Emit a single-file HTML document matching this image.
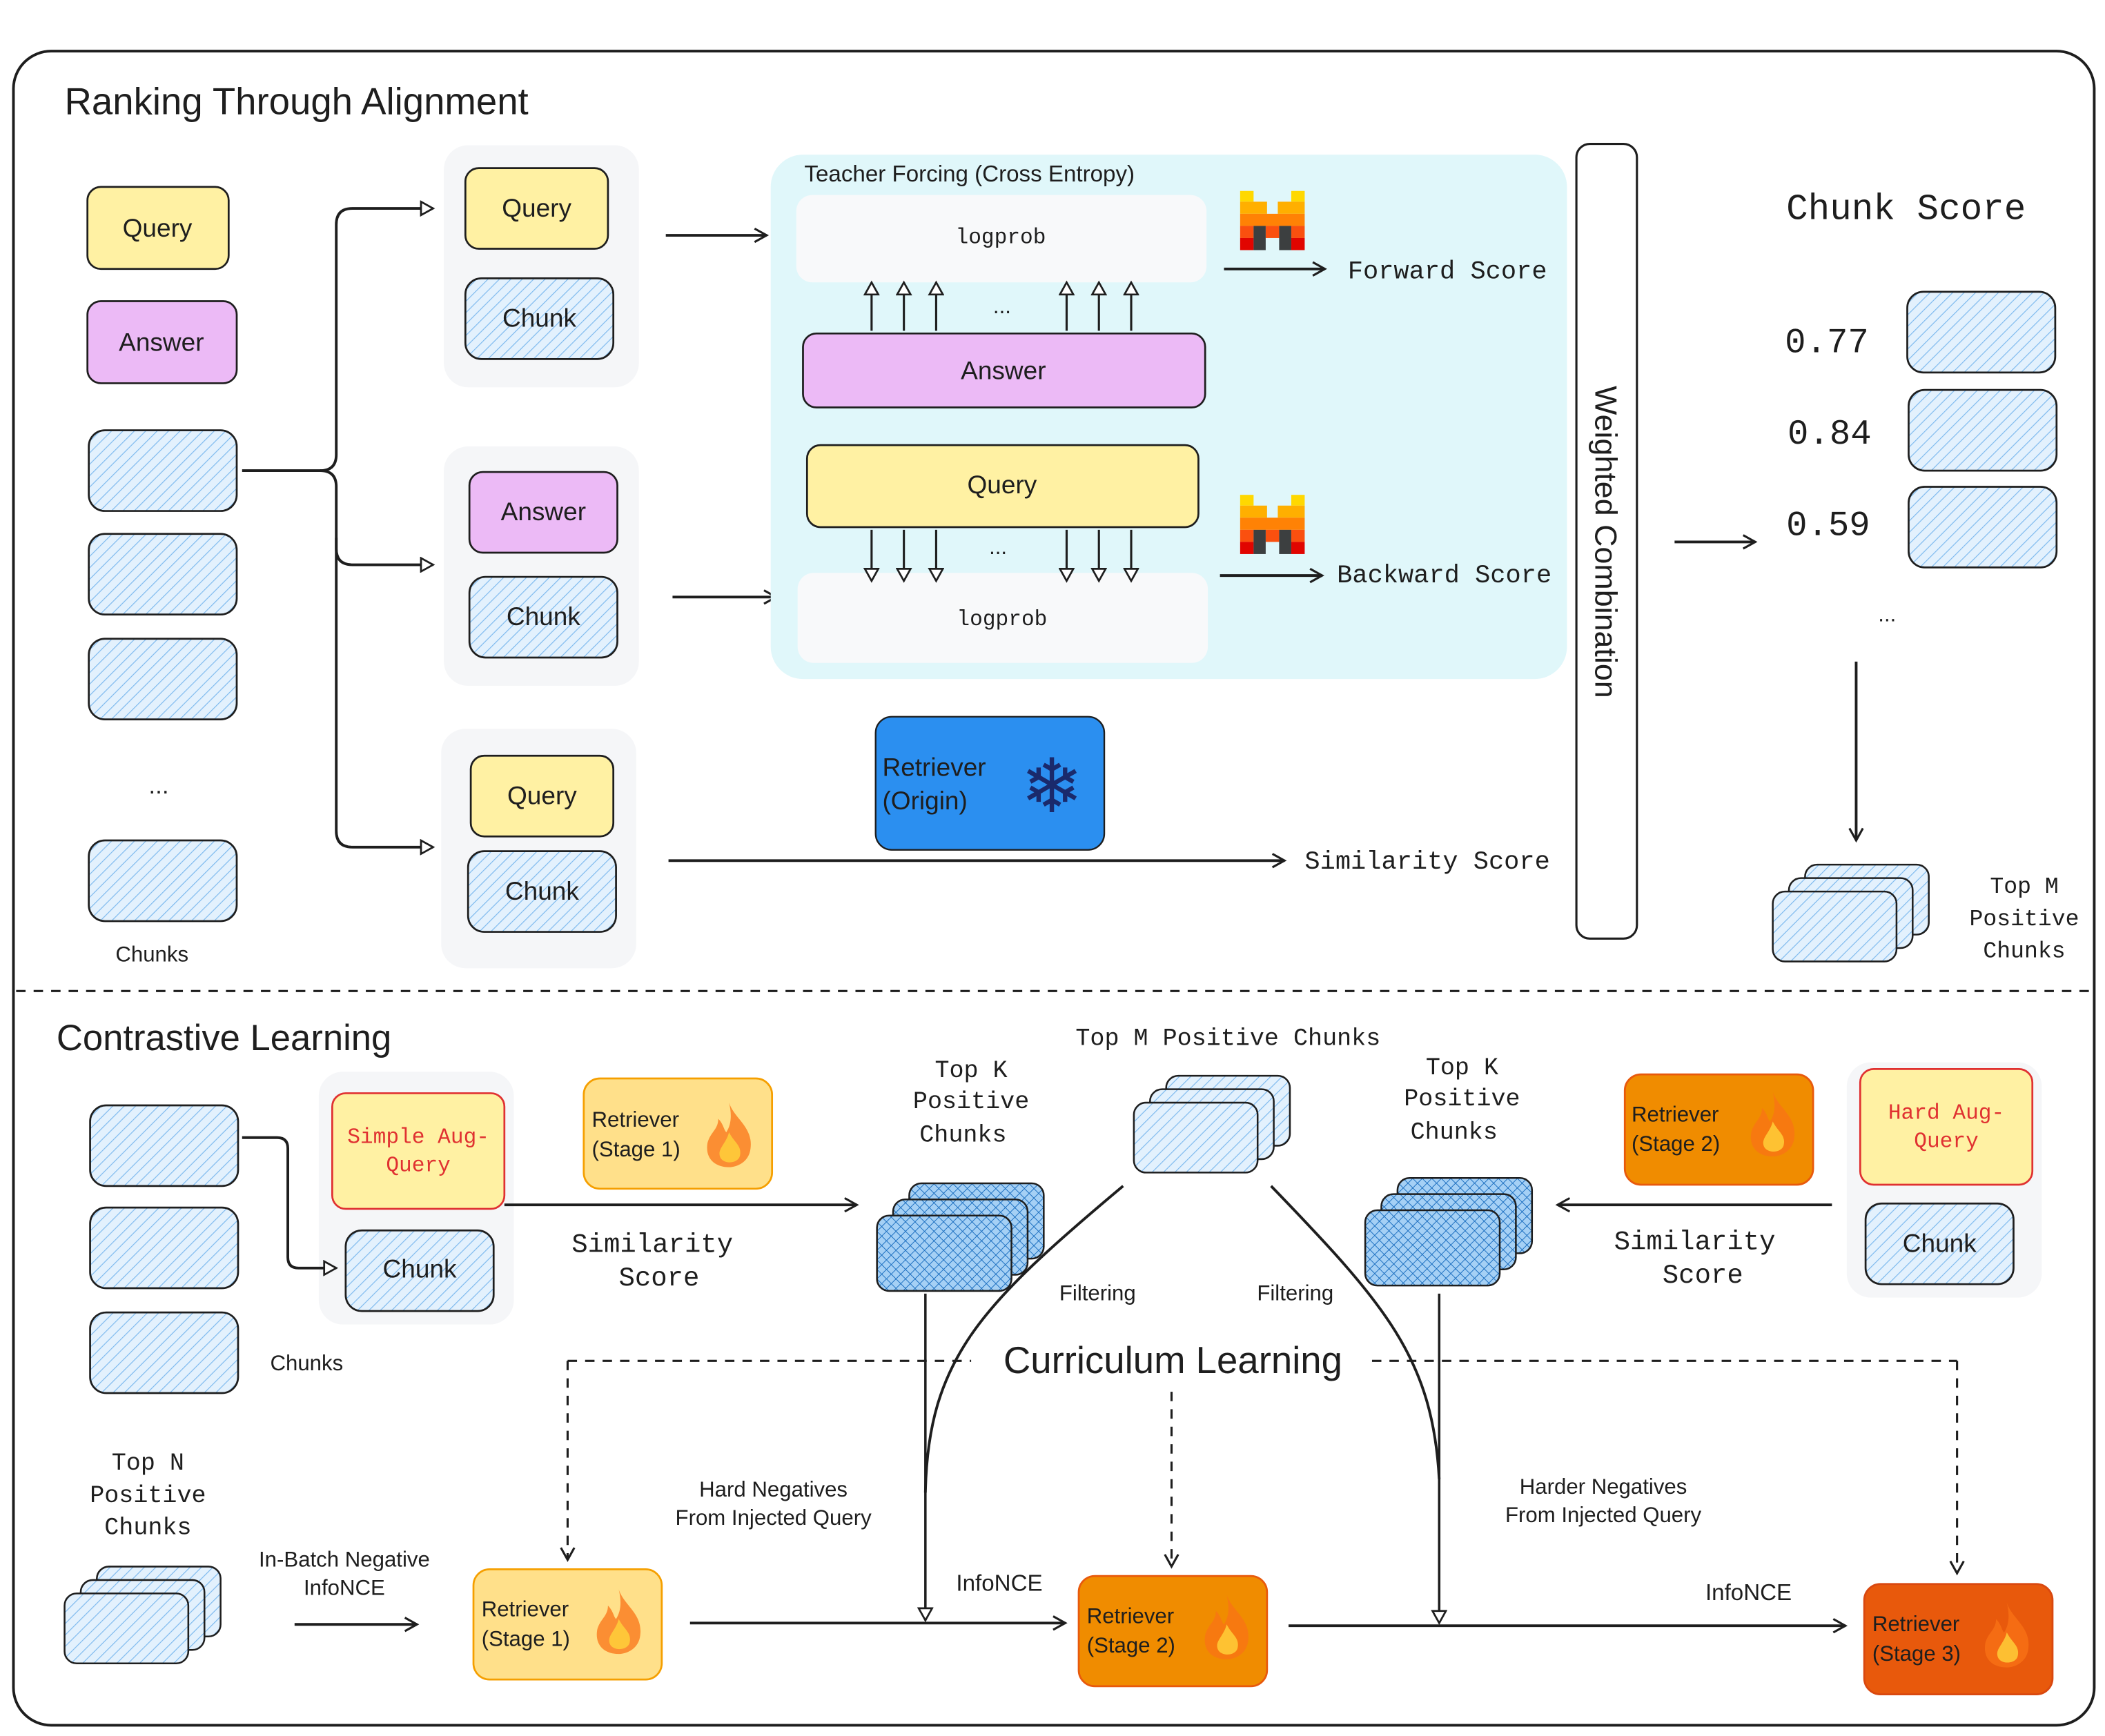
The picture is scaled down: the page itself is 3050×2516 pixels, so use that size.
<!DOCTYPE html>
<html><head><meta charset="utf-8"><style>
html,body{margin:0;padding:0;background:#fff}
svg{display:block}
text{font-family:"Liberation Sans",sans-serif;fill:#1e1e1e}
.m{font-family:"Liberation Mono",monospace}
</style></head><body>
<svg width="3050" height="2516" viewBox="0 0 1565 1291" xmlns="http://www.w3.org/2000/svg">
<defs>
<pattern id="h" width="6" height="6" patternUnits="userSpaceOnUse" patternTransform="rotate(45)">
<rect width="6" height="6" fill="#e3f1fd"/><line x1="0" y1="0" x2="0" y2="6" stroke="#7cb9ee" stroke-width="1.2"/></pattern>
<pattern id="d" width="5" height="5" patternUnits="userSpaceOnUse" patternTransform="rotate(45)">
<rect width="5" height="5" fill="#a5d0f5"/><line x1="0" y1="0" x2="0" y2="5" stroke="#1c6fc0" stroke-width="1"/><line x1="0" y1="0" x2="5" y2="0" stroke="#1c6fc0" stroke-width="1"/></pattern>
<marker id="a" markerWidth="12" markerHeight="12" refX="10" refY="6" orient="auto" markerUnits="userSpaceOnUse"><path d="M1,1 L10,6 L1,11" fill="none" stroke="#1e1e1e" stroke-width="1.6"/></marker>
<marker id="t" markerWidth="12" markerHeight="12" refX="10" refY="6" orient="auto" markerUnits="userSpaceOnUse"><path d="M1,1 L10,6 L1,11 Z" fill="#fff" stroke="#1e1e1e" stroke-width="1.4"/></marker>
<g id="ch"><rect width="110" height="60" rx="12" fill="url(#h)" stroke="#1e1e1e" stroke-width="1.4"/></g>
<g id="st"><rect x="24" y="0" width="92" height="52" rx="9" fill="url(#h)" stroke="#1e1e1e" stroke-width="1.3"/><rect x="12" y="10" width="92" height="52" rx="9" fill="url(#h)" stroke="#1e1e1e" stroke-width="1.3"/><rect x="0" y="20" width="92" height="52" rx="9" fill="url(#h)" stroke="#1e1e1e" stroke-width="1.3"/></g>
<g id="sd"><rect x="24" y="0" width="100" height="56" rx="9" fill="url(#d)" stroke="#1e1e1e" stroke-width="1.3"/><rect x="12" y="12" width="100" height="56" rx="9" fill="url(#d)" stroke="#1e1e1e" stroke-width="1.3"/><rect x="0" y="24" width="100" height="56" rx="9" fill="url(#d)" stroke="#1e1e1e" stroke-width="1.3"/></g>
<g id="fire"><path d="M18,0 C22,12 36,18 34,34 C33,44 24,48 18,48 C8,48 0,42 2,30 C4,22 10,20 10,12 C14,16 14,20 16,22 C20,16 20,8 18,0 Z" fill="#f97316" opacity="0.75"/><path d="M18,22 C22,30 28,32 26,40 C24,46 12,46 11,39 C10,34 16,30 18,22 Z" fill="#ffd43b" opacity="0.8"/></g>
<g id="mis"><rect x="0" y="0" width="10" height="8" fill="#ffd800"/><rect x="38" y="0" width="10" height="8" fill="#ffd800"/><rect x="0" y="8" width="20" height="9" fill="#ffaf00"/><rect x="28" y="8" width="20" height="9" fill="#ffaf00"/><rect x="0" y="17" width="48" height="9" fill="#ff8205"/><rect x="0" y="26" width="10" height="9" fill="#fa500f"/><rect x="19" y="26" width="10" height="9" fill="#fa500f"/><rect x="38" y="26" width="10" height="9" fill="#fa500f"/><rect x="0" y="35" width="10" height="9" fill="#e10500"/><rect x="38" y="35" width="10" height="9" fill="#e10500"/><rect x="10" y="26" width="9" height="18" fill="#1e1e1e" opacity="0.85"/><rect x="29" y="26" width="9" height="18" fill="#1e1e1e" opacity="0.85"/></g>
</defs>

<rect x="10" y="38" width="1547" height="1245" rx="28" fill="#fff" stroke="#1e1e1e" stroke-width="2"/>
<line x1="12" y1="737" x2="1555" y2="737" stroke="#1e1e1e" stroke-width="1.6" stroke-dasharray="7,6"/>

<text x="48" y="85" font-size="28">Ranking Through Alignment</text>

<rect x="65" y="139" width="105" height="61" rx="10" fill="#fff1a3" stroke="#1e1e1e" stroke-width="1.4"/>
<text x="117" y="176" font-size="19" text-anchor="middle">Query</text>
<rect x="65" y="224" width="111" height="61" rx="10" fill="#ecbaf6" stroke="#1e1e1e" stroke-width="1.4"/>
<text x="120" y="261" font-size="19" text-anchor="middle">Answer</text>
<use href="#ch" x="66" y="320"/><use href="#ch" x="66" y="397"/><use href="#ch" x="66" y="475"/>
<text x="118" y="590" font-size="18" text-anchor="middle">...</text>
<use href="#ch" x="66" y="625"/>
<text x="113" y="715" font-size="16" text-anchor="middle">Chunks</text>

<path d="M180,350 L238,350 Q250,350 250,338 L250,167 Q250,155 262,155 L322,155" fill="none" stroke="#1e1e1e" stroke-width="2" marker-end="url(#t)"/>
<path d="M238,350 Q250,350 250,362 L250,408 Q250,420 262,420 L322,420" fill="none" stroke="#1e1e1e" stroke-width="2" marker-end="url(#t)"/>
<path d="M250,400 L250,618 Q250,630 262,630 L322,630" fill="none" stroke="#1e1e1e" stroke-width="2" marker-end="url(#t)"/>

<rect x="330" y="108" width="145" height="180" rx="18" fill="#f5f6f8"/>
<rect x="346" y="125" width="106" height="60" rx="10" fill="#fff1a3" stroke="#1e1e1e" stroke-width="1.4"/>
<text x="399" y="161" font-size="19" text-anchor="middle">Query</text>
<use href="#ch" x="346" y="207"/><text x="401" y="243" font-size="19" text-anchor="middle">Chunk</text>

<rect x="330" y="332" width="145" height="178" rx="18" fill="#f5f6f8"/>
<rect x="349" y="351" width="110" height="60" rx="10" fill="#ecbaf6" stroke="#1e1e1e" stroke-width="1.4"/>
<text x="404" y="387" font-size="19" text-anchor="middle">Answer</text>
<use href="#ch" x="349" y="429"/><text x="404" y="465" font-size="19" text-anchor="middle">Chunk</text>

<rect x="328" y="542" width="145" height="178" rx="18" fill="#f5f6f8"/>
<rect x="350" y="562" width="106" height="60" rx="10" fill="#fff1a3" stroke="#1e1e1e" stroke-width="1.4"/>
<text x="403" y="598" font-size="19" text-anchor="middle">Query</text>
<use href="#ch" x="348" y="633"/><text x="403" y="669" font-size="19" text-anchor="middle">Chunk</text>

<line x1="495" y1="175" x2="570" y2="175" stroke="#1e1e1e" stroke-width="2" marker-end="url(#a)"/>
<line x1="500" y1="444" x2="577" y2="444" stroke="#1e1e1e" stroke-width="2" marker-end="url(#a)"/>

<rect x="573" y="115" width="592" height="390" rx="24" fill="#e0f7fa"/>
<text x="598" y="135" font-size="17">Teacher Forcing (Cross Entropy)</text>
<rect x="592" y="145" width="305" height="65" rx="12" fill="#f8f9fa"/>
<text x="744" y="181" font-size="16" class="m" text-anchor="middle">logprob</text>
<rect x="597" y="248" width="299" height="55" rx="10" fill="#ecbaf6" stroke="#1e1e1e" stroke-width="1.4"/>
<text x="746" y="282" font-size="19" text-anchor="middle">Answer</text>
<rect x="600" y="331" width="291" height="61" rx="10" fill="#fff1a3" stroke="#1e1e1e" stroke-width="1.4"/>
<text x="745" y="367" font-size="19" text-anchor="middle">Query</text>
<rect x="593" y="426" width="305" height="67" rx="12" fill="#f8f9fa"/>
<text x="745" y="465" font-size="16" class="m" text-anchor="middle">logprob</text>
<g stroke="#1e1e1e" stroke-width="1.6">
<line x1="648" y1="246" x2="648" y2="210" marker-end="url(#t)"/><line x1="672" y1="246" x2="672" y2="210" marker-end="url(#t)"/><line x1="696" y1="246" x2="696" y2="210" marker-end="url(#t)"/>
<line x1="793" y1="246" x2="793" y2="210" marker-end="url(#t)"/><line x1="817" y1="246" x2="817" y2="210" marker-end="url(#t)"/><line x1="841" y1="246" x2="841" y2="210" marker-end="url(#t)"/>
<line x1="648" y1="394" x2="648" y2="432" marker-end="url(#t)"/><line x1="672" y1="394" x2="672" y2="432" marker-end="url(#t)"/><line x1="696" y1="394" x2="696" y2="432" marker-end="url(#t)"/>
<line x1="793" y1="394" x2="793" y2="432" marker-end="url(#t)"/><line x1="817" y1="394" x2="817" y2="432" marker-end="url(#t)"/><line x1="841" y1="394" x2="841" y2="432" marker-end="url(#t)"/>
</g>
<text x="745" y="233" font-size="16" text-anchor="middle">...</text>
<text x="742" y="412" font-size="16" text-anchor="middle">...</text>
<use href="#mis" x="922" y="142"/><use href="#mis" x="922" y="368"/>
<line x1="910" y1="200" x2="985" y2="200" stroke="#1e1e1e" stroke-width="2" marker-end="url(#a)"/>
<text x="1002" y="207" font-size="19" class="m">Forward Score</text>
<line x1="907" y1="428" x2="983" y2="428" stroke="#1e1e1e" stroke-width="2" marker-end="url(#a)"/>
<text x="994" y="433" font-size="19" class="m">Backward Score</text>

<rect x="651" y="533" width="170" height="99" rx="12" fill="#2b8ff0" stroke="#1e1e1e" stroke-width="1.2"/>
<text x="656" y="577" font-size="19">Retriever</text>
<text x="656" y="602" font-size="19">(Origin)</text>
<text x="782" y="604" font-size="56" text-anchor="middle" style="fill:#1a2a6c;font-family:'DejaVu Sans',sans-serif">❄</text>
<line x1="497" y1="640" x2="955" y2="640" stroke="#1e1e1e" stroke-width="2" marker-end="url(#a)"/>
<text x="970" y="646" font-size="19" class="m">Similarity Score</text>

<rect x="1172" y="107" width="45" height="591" rx="10" fill="#fff" stroke="#1e1e1e" stroke-width="1.6"/>
<text transform="translate(1186,403) rotate(90)" font-size="23" text-anchor="middle">Weighted Combination</text>
<line x1="1245" y1="403" x2="1305" y2="403" stroke="#1e1e1e" stroke-width="2" marker-end="url(#a)"/>

<text x="1328" y="163" font-size="27" class="m">Chunk Score</text>
<text x="1327" y="262" font-size="26" class="m">0.77</text>
<text x="1329" y="330" font-size="26" class="m">0.84</text>
<text x="1328" y="398" font-size="26" class="m">0.59</text>
<use href="#ch" x="1418" y="217"/><use href="#ch" x="1419" y="290"/><use href="#ch" x="1419" y="362"/>
<text x="1403" y="462" font-size="16" text-anchor="middle">...</text>
<line x1="1380" y1="492" x2="1380" y2="625" stroke="#1e1e1e" stroke-width="2" marker-end="url(#a)"/>
<use href="#st" x="1318" y="643"/>
<text x="1505" y="664" font-size="17" class="m" text-anchor="middle">Top M</text>
<text x="1505" y="688" font-size="17" class="m" text-anchor="middle">Positive</text>
<text x="1505" y="712" font-size="17" class="m" text-anchor="middle">Chunks</text>

<text x="42" y="781" font-size="27">Contrastive Learning</text>
<use href="#ch" x="67" y="822"/><use href="#ch" x="67" y="898"/><use href="#ch" x="67" y="976"/>
<text x="228" y="1019" font-size="16" text-anchor="middle">Chunks</text>
<rect x="237" y="797" width="145" height="188" rx="18" fill="#f5f6f8"/>
<rect x="247" y="813" width="128" height="86" rx="10" fill="#fff1a3" stroke="#e03131" stroke-width="1.4"/>
<text x="311" y="850" font-size="16" class="m" text-anchor="middle" style="fill:#e03131">Simple Aug-</text>
<text x="311" y="871" font-size="16" class="m" text-anchor="middle" style="fill:#e03131">Query</text>
<use href="#ch" x="257" y="915"/><text x="312" y="950" font-size="19" text-anchor="middle">Chunk</text>
<path d="M180,846 L206,846 Q214,846 214,854 L214,935 Q214,943 222,943 L250,943" fill="none" stroke="#1e1e1e" stroke-width="2" marker-end="url(#t)"/>

<rect x="434" y="802" width="140" height="82" rx="12" fill="#ffe08a" stroke="#f59f00" stroke-width="1.4"/>
<text x="440" y="838" font-size="16">Retriever</text><text x="440" y="860" font-size="16">(Stage 1)</text>
<use href="#fire" x="524" y="820"/>
<line x1="375" y1="896" x2="637" y2="896" stroke="#1e1e1e" stroke-width="2" marker-end="url(#a)"/>
<text x="485" y="931" font-size="20" class="m" text-anchor="middle">Similarity</text>
<text x="490" y="956" font-size="20" class="m" text-anchor="middle">Score</text>

<text x="722" y="801" font-size="18" class="m" text-anchor="middle">Top K</text>
<text x="722" y="824" font-size="18" class="m" text-anchor="middle">Positive</text>
<text x="716" y="849" font-size="18" class="m" text-anchor="middle">Chunks</text>
<use href="#sd" x="652" y="880"/>
<text x="913" y="777" font-size="18" class="m" text-anchor="middle">Top M Positive Chunks</text>
<use href="#st" x="843" y="800"/>
<text x="1087" y="799" font-size="18" class="m" text-anchor="middle">Top K</text>
<text x="1087" y="822" font-size="18" class="m" text-anchor="middle">Positive</text>
<text x="1081" y="847" font-size="18" class="m" text-anchor="middle">Chunks</text>
<use href="#sd" x="1015" y="876"/>
<path d="M835,882 C730,970 690,1010 688,1110" fill="none" stroke="#1e1e1e" stroke-width="2"/>
<path d="M945,882 C1030,970 1065,1010 1070,1100" fill="none" stroke="#1e1e1e" stroke-width="2"/>
<text x="816" y="967" font-size="16" text-anchor="middle">Filtering</text>
<text x="963" y="967" font-size="16" text-anchor="middle">Filtering</text>

<rect x="1373" y="790" width="145" height="175" rx="18" fill="#f5f6f8"/>
<rect x="1383" y="795" width="128" height="86" rx="10" fill="#fff1a3" stroke="#e03131" stroke-width="1.4"/>
<text x="1447" y="832" font-size="16" class="m" text-anchor="middle" style="fill:#e03131">Hard Aug-</text>
<text x="1447" y="853" font-size="16" class="m" text-anchor="middle" style="fill:#e03131">Query</text>
<use href="#ch" x="1387" y="895"/><text x="1442" y="931" font-size="19" text-anchor="middle">Chunk</text>
<rect x="1208" y="799" width="140" height="82" rx="12" fill="#f08c00" stroke="#e8590c" stroke-width="1.4"/>
<text x="1213" y="834" font-size="16">Retriever</text><text x="1213" y="856" font-size="16">(Stage 2)</text>
<use href="#fire" x="1300" y="812"/>
<line x1="1362" y1="896" x2="1158" y2="896" stroke="#1e1e1e" stroke-width="2" marker-end="url(#a)"/>
<text x="1260" y="929" font-size="20" class="m" text-anchor="middle">Similarity</text>
<text x="1266" y="954" font-size="20" class="m" text-anchor="middle">Score</text>

<line x1="422" y1="1012" x2="1455" y2="1012" stroke="#1e1e1e" stroke-width="1.6" stroke-dasharray="7,6"/>
<line x1="422" y1="1012" x2="422" y2="1160" stroke="#1e1e1e" stroke-width="1.6" stroke-dasharray="7,6" marker-end="url(#a)"/>
<line x1="1455" y1="1012" x2="1455" y2="1170" stroke="#1e1e1e" stroke-width="1.6" stroke-dasharray="7,6" marker-end="url(#a)"/>
<line x1="871" y1="1035" x2="871" y2="1165" stroke="#1e1e1e" stroke-width="1.6" stroke-dasharray="7,6" marker-end="url(#a)"/>
<rect x="722" y="994" width="298" height="34" fill="#fff"/>
<text x="872" y="1021" font-size="28" text-anchor="middle">Curriculum Learning</text>
<line x1="688" y1="962" x2="688" y2="1205" stroke="#1e1e1e" stroke-width="1.8" marker-end="url(#t)"/>
<line x1="1070" y1="962" x2="1070" y2="1207" stroke="#1e1e1e" stroke-width="1.8" marker-end="url(#t)"/>

<text x="110" y="1093" font-size="18" class="m" text-anchor="middle">Top N</text>
<text x="110" y="1117" font-size="18" class="m" text-anchor="middle">Positive</text>
<text x="110" y="1141" font-size="18" class="m" text-anchor="middle">Chunks</text>
<use href="#st" x="48" y="1165"/>
<text x="256" y="1165" font-size="16" text-anchor="middle">In-Batch Negative</text>
<text x="256" y="1186" font-size="16" text-anchor="middle">InfoNCE</text>
<line x1="219" y1="1208" x2="310" y2="1208" stroke="#1e1e1e" stroke-width="2" marker-end="url(#a)"/>
<rect x="352" y="1167" width="140" height="82" rx="12" fill="#ffe08a" stroke="#f59f00" stroke-width="1.4"/>
<text x="358" y="1202" font-size="16">Retriever</text><text x="358" y="1224" font-size="16">(Stage 1)</text>
<use href="#fire" x="442" y="1182"/>
<line x1="513" y1="1207" x2="792" y2="1207" stroke="#1e1e1e" stroke-width="2" marker-end="url(#a)"/>
<text x="743" y="1183" font-size="17" text-anchor="middle">InfoNCE</text>
<text x="575" y="1113" font-size="16" text-anchor="middle">Hard Negatives</text>
<text x="575" y="1134" font-size="16" text-anchor="middle">From Injected Query</text>
<rect x="802" y="1172" width="140" height="82" rx="12" fill="#f08c00" stroke="#e8590c" stroke-width="1.4"/>
<text x="808" y="1207" font-size="16">Retriever</text><text x="808" y="1229" font-size="16">(Stage 2)</text>
<use href="#fire" x="894" y="1186"/>
<line x1="958" y1="1209" x2="1372" y2="1209" stroke="#1e1e1e" stroke-width="2" marker-end="url(#a)"/>
<text x="1300" y="1190" font-size="17" text-anchor="middle">InfoNCE</text>
<text x="1192" y="1111" font-size="16" text-anchor="middle">Harder Negatives</text>
<text x="1192" y="1132" font-size="16" text-anchor="middle">From Injected Query</text>
<rect x="1386" y="1178" width="140" height="82" rx="12" fill="#e8590c" stroke="#d9480f" stroke-width="1.4"/>
<text x="1392" y="1213" font-size="16">Retriever</text><text x="1392" y="1235" font-size="16">(Stage 3)</text>
<use href="#fire" x="1474" y="1192"/>
</svg>
</body></html>
